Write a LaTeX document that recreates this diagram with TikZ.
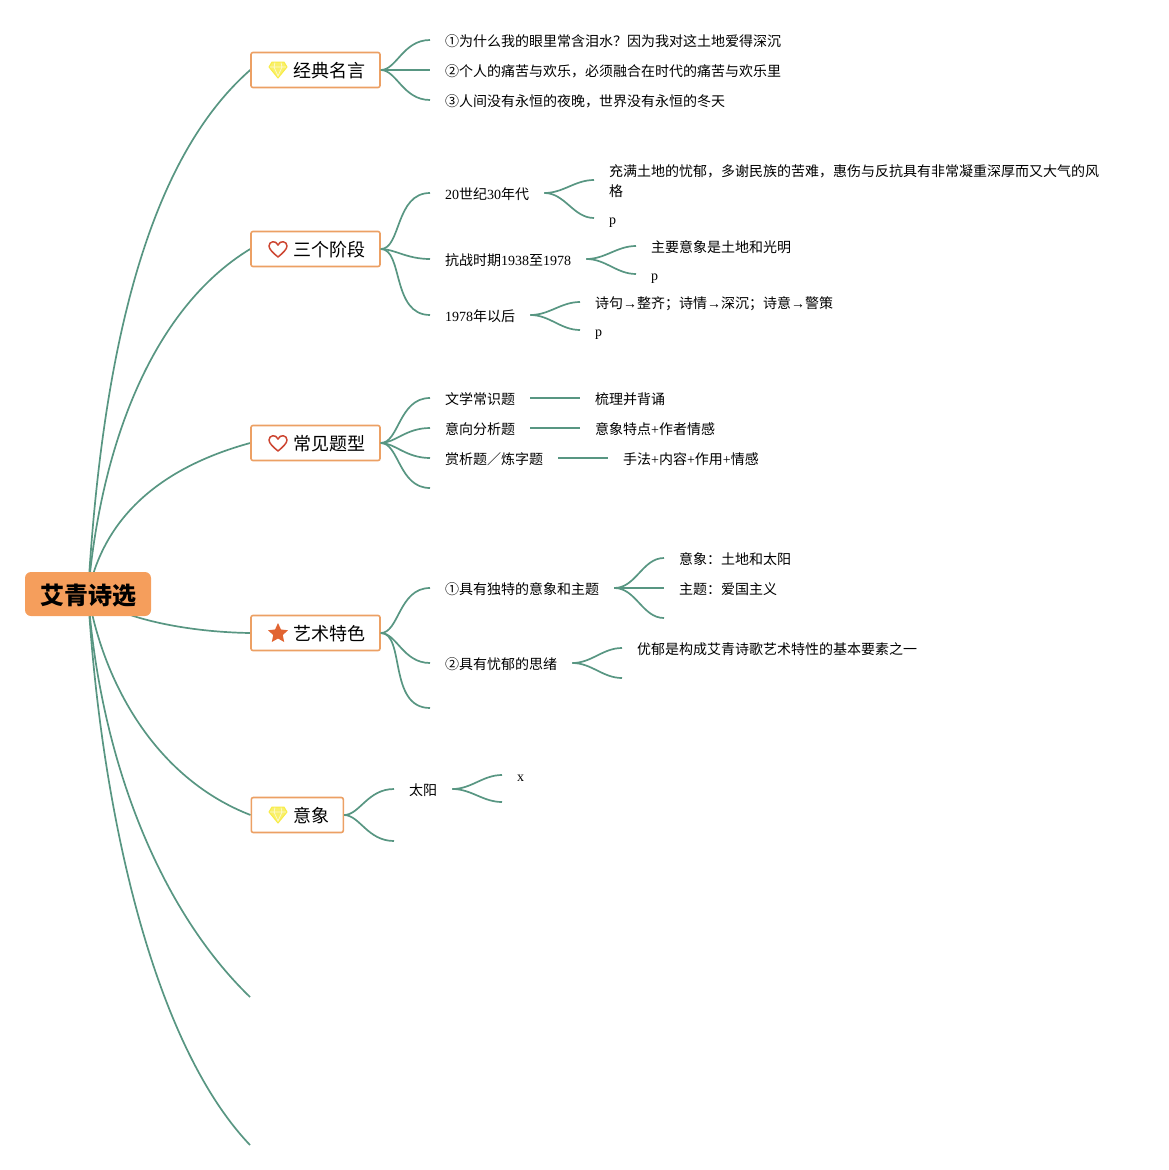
\documentclass[tikz,border=0pt]{standalone}
\usepackage{fontspec}
\usepackage{xcolor}
\setmainfont{Noto Sans CJK SC}
\newfontfamily\latinfont{Liberation Serif}
\newcommand{\lat}[1]{{\latinfont #1}}
\usetikzlibrary{shapes.geometric, backgrounds}
\definecolor{branchgreen}{RGB}{88,150,130}
\definecolor{rootorange}{RGB}{245,158,92}
\definecolor{boxorange}{RGB}{236,160,100}
\definecolor{gemyellow}{RGB}{248,236,70}
\definecolor{heartred}{RGB}{205,70,50}
\definecolor{starorange}{RGB}{225,100,50}
\tikzset{
    rootnode/.style={fill=rootorange, rounded corners=6pt, minimum width=126pt, minimum height=44pt, inner sep=0pt, text height=25pt, text depth=4pt, font=\fontsize{24}{28}\selectfont\bfseries},
    topicbox/.style={draw=boxorange, fill=white, line width=1.6pt, rounded corners=2pt, minimum height=35pt, inner sep=0pt, text height=18pt, text depth=3pt, font=\fontsize{18}{22}\selectfont},
    leaf/.style={anchor=west, inner xsep=15pt, inner ysep=0pt, align=left, font=\fontsize{14}{20}\selectfont},
    oneline/.style={leaf, text height=15pt, text depth=3pt},
    branch/.style={draw=branchgreen, line width=1.7pt},
    fork/.style={branch, out=0, in=180, out looseness=0.7, in looseness=1.2},
    subfork/.style={branch, out=0, in=180, looseness=0.95},
    gem/.pic={
        \draw[gemyellow, fill=gemyellow!80, line width=1pt, line join=round] (-6,-8) -- (6,-8) -- (9,-3) -- (0,8) -- (-9,-3) -- cycle;
        \draw[gemyellow!25, line width=0.7pt] (-8,-3) -- (8,-3) (-3,-7.5) -- (-4,-3) -- (0,6) -- (4,-3) -- (3,-7.5);
    },
    heart/.pic={
        \draw[heartred, line width=1.5pt, line join=round] (0,8) .. controls (-5,4) and (-9,0) .. (-9,-3) .. controls (-9,-8) and (-2,-9) .. (0,-4) .. controls (2,-9) and (9,-8) .. (9,-3) .. controls (9,0) and (5,4) .. (0,8) -- cycle;
    }
}

\begin{document}
\begin{tikzpicture}[x=1pt, y=-1pt]
    \useasboundingbox (0,0) rectangle (1169,1170);

    % centre and topics
    \node[rootnode] (root) at (88,594) {艾青诗选};
    \node[topicbox, minimum width=129pt] (quotes) at (315.5,70) {\hspace*{27pt}经典名言};
    \node[topicbox, minimum width=129pt] (stages) at (315.5,249) {\hspace*{27pt}三个阶段};
    \node[topicbox, minimum width=129pt] (types) at (315.5,443) {\hspace*{27pt}常见题型};
    \node[topicbox, minimum width=129pt] (style) at (315.5,633) {\hspace*{27pt}艺术特色};
    \node[topicbox, minimum width=92pt] (image) at (297.3,815) {\hspace*{28pt}意象};
    \coordinate (emptya) at (250,997);
    \coordinate (emptyb) at (250,1145);

    \pic at (278,70) {gem};
    \pic at (278,249) {heart};
    \pic at (278,443) {heart};
    \node[star, star points=5, star point ratio=2.1, fill=starorange, minimum size=21pt, inner sep=0pt] (staricon) at (278,633.5) {};
    \pic at (278,815) {gem};

    \begin{scope}[on background layer]
        \draw[branch] (root.center) .. controls (105,300) and (165,145) .. (quotes.west);
        \draw[branch] (root.center) .. controls (100,450) and (150,310) .. (stages.west);
        \draw[branch] (root.center) .. controls (105,510) and (170,465) .. (types.west);
        \draw[branch] (root.center) .. controls (118,618) and (185,632) .. (style.west);
        \draw[branch] (root.center) .. controls (105,690) and (160,780) .. (image.west);
        \draw[branch] (root.center) .. controls (100,760) and (160,910) .. (emptya);
        \draw[branch] (root.center) .. controls (100,800) and (150,1040) .. (emptyb);
    \end{scope}

    % quotes
    \node[oneline] (quotea) at (430,40) {①为什么我的眼里常含泪水？因为我对这土地爱得深沉};
    \node[oneline] (quoteb) at (430,70) {②个人的痛苦与欢乐，必须融合在时代的痛苦与欢乐里};
    \node[oneline] (quotec) at (430,100) {③人间没有永恒的夜晚，世界没有永恒的冬天};
    \foreach \n in {quotea,quoteb,quotec}
        \draw[fork] (quotes.east) to (\n.west);

    % stages
    \node[oneline] (thirties) at (430,193) {\lat{20}世纪\lat{30}年代};
    \node[oneline] (wartime) at (430,259) {抗战时期\lat{1938}至\lat{1978}};
    \node[oneline] (after) at (430,315) {\lat{1978}年以后};
    \foreach \n in {thirties,wartime,after}
        \draw[fork] (stages.east) to (\n.west);

    \node[leaf] (thirtiestext) at (594,181) {充满土地的忧郁，多谢民族的苦难，惠伤与反抗具有非常凝重深厚而又大气的风\\格};
    \node[oneline] (thirtiesp) at (594,218) {\lat{p}};
    \draw[subfork] (thirties.east) to ([yshift=1pt]thirtiestext.west);
    \draw[subfork] (thirties.east) to (thirtiesp.west);

    \node[oneline] (wartimetext) at (636,246) {主要意象是土地和光明};
    \node[oneline] (wartimep) at (636,274) {\lat{p}};
    \draw[subfork] (wartime.east) to (wartimetext.west);
    \draw[subfork] (wartime.east) to (wartimep.west);

    \node[oneline] (aftertext) at (580,302) {诗句\lat{→}整齐；诗情\lat{→}深沉；诗意\lat{→}警策};
    \node[oneline] (afterp) at (580,330) {\lat{p}};
    \draw[subfork] (after.east) to (aftertext.west);
    \draw[subfork] (after.east) to (afterp.west);

    % types
    \node[oneline] (typea) at (430,398) {文学常识题};
    \node[oneline] (typeb) at (430,428) {意向分析题};
    \node[oneline] (typec) at (430,458) {赏析题／炼字题};
    \coordinate (typed) at (430,488);
    \foreach \n in {typea.west,typeb.west,typec.west,typed}
        \draw[fork] (types.east) to (\n);

    \node[oneline] (answera) at (580,398) {梳理并背诵};
    \node[oneline] (answerb) at (580,428) {意象特点\lat{+}作者情感};
    \node[oneline] (answerc) at (608,458) {手法\lat{+}内容\lat{+}作用\lat{+}情感};
    \draw[branch] (typea.east) -- (answera.west);
    \draw[branch] (typeb.east) -- (answerb.west);
    \draw[branch] (typec.east) -- (answerc.west);

    % style
    \node[oneline] (stylea) at (430,588) {①具有独特的意象和主题};
    \node[oneline] (styleb) at (430,663) {②具有忧郁的思绪};
    \coordinate (stylec) at (430,708);
    \foreach \n in {stylea.west,styleb.west,stylec}
        \draw[fork] (style.east) to (\n);

    \node[oneline] (stylesun) at (664,558) {意象：土地和太阳};
    \node[oneline] (stylelove) at (664,588) {主题：爱国主义};
    \coordinate (styleend) at (664,618);
    \foreach \n in {stylesun.west,stylelove.west,styleend}
        \draw[subfork] (stylea.east) to (\n);

    \node[oneline] (styleworry) at (622,648) {优郁是构成艾青诗歌艺术特性的基本要素之一};
    \coordinate (worryend) at (622,678);
    \draw[subfork] (styleb.east) to (styleworry.west);
    \draw[subfork] (styleb.east) to (worryend);

    % image
    \node[oneline] (sun) at (394,789) {太阳};
    \coordinate (imageend) at (394,841);
    \draw[fork] (image.east) to (sun.west);
    \draw[fork] (image.east) to (imageend);

    \node[oneline] (sunx) at (502,775) {\lat{x}};
    \coordinate (sunend) at (502,802);
    \draw[subfork] (sun.east) to (sunx.west);
    \draw[subfork] (sun.east) to (sunend);
\end{tikzpicture}
\end{document}
